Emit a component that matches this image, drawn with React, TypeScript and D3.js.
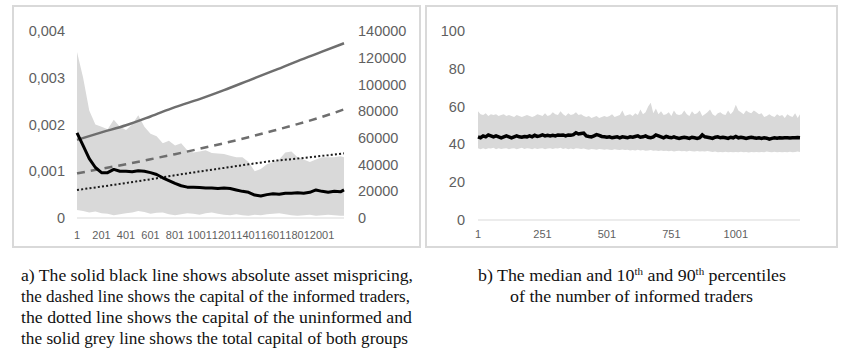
import { useRef, useEffect } from 'react';
import * as d3 from 'd3';

// left panel: sampled every 50 periods (plus the final period)
const LEFT_PERIODS = [...d3.range(1, 2152, 50), 2180];
const MISPRICING_P90 = [
  0.00355, 0.003, 0.0023, 0.002, 0.00195, 0.0019, 0.0021, 0.00195, 0.00188, 0.002,
  0.0022, 0.00195, 0.0018, 0.00175, 0.0016, 0.00165, 0.00155, 0.0016, 0.00145, 0.0014,
  0.00142, 0.00145, 0.00139, 0.00138, 0.00137, 0.00133, 0.0013, 0.0013, 0.0012, 0.001,
  0.00105, 0.00115, 0.0012, 0.00125, 0.0014, 0.00142, 0.0013, 0.00125, 0.0012, 0.00125,
  0.0013, 0.0013, 0.0013, 0.00132, 0.0013,
];
const MISPRICING_P10 = [
  0.00017, 0.00015, 0.00012, 0.00014, 0.0001, 0.00009, 0.00006, 0.00008, 0.0001, 0.00012,
  0.00015, 0.00013, 0.00009, 0.00011, 0.00012, 0.00008, 0.00006, 0.00008, 0.0001, 0.00009,
  0.00007, 0.0001, 0.00012, 0.00009, 0.00007, 0.00006, 0.00008, 0.00006, 0.00005, 0.00007,
  0.00006, 0.00008, 0.00009, 0.0001, 0.00008, 0.00006, 0.00005, 0.00006, 0.00007, 0.00005,
  0.00006, 0.00007, 0.00006, 0.00005, 0.00005,
];
const MISPRICING = [
  0.00182, 0.00155, 0.00127, 0.00108, 0.00097, 0.00097, 0.00104, 0.001, 0.001, 0.00099,
  0.00101, 0.001, 0.00097, 0.00093, 0.00086, 0.0008, 0.00074, 0.00069, 0.00066, 0.00066,
  0.00065, 0.00064, 0.00064, 0.00063, 0.00064, 0.00063, 0.0006, 0.00057, 0.00055, 0.00049,
  0.00047, 0.0005, 0.00052, 0.00051, 0.00053, 0.00053, 0.00054, 0.00053, 0.00055, 0.0006,
  0.00057, 0.00055, 0.00057, 0.00056, 0.0006,
];

// capital series, sampled every 200 periods
const CAPITAL_PERIODS = [1, 201, 401, 601, 801, 1001, 1201, 1401, 1601, 1801, 2001, 2180];
const CAPITAL_TOTAL = [58500, 64100, 69400, 76000, 83000, 89000, 95700, 102900, 110100, 117500, 124500, 130800];
const CAPITAL_INFORMED = [33400, 36800, 40300, 44000, 47800, 51800, 56000, 60500, 65300, 70300, 75700, 81300];
const CAPITAL_UNINFORMED = [21000, 23500, 26200, 29000, 32000, 34800, 37500, 40200, 42700, 44500, 46500, 48400];

const LEFT_X_TICKS = [1, 201, 401, 601, 801, 1001, 1201, 1401, 1601, 1801, 2001];
const LEFT_Y_TICKS = [0, 0.001, 0.002, 0.003, 0.004];
const RIGHT_Y_TICKS = [0, 20000, 40000, 60000, 80000, 100000, 120000, 140000];

// right panel: number of informed traders, sampled every 10 periods
const TRADER_PERIODS = [...d3.range(1, 1242, 10), 1250];
const TRADERS_P90 = [
  57.5, 56, 55.5, 56.5, 55, 56, 55.5, 56, 55, 55.5,
  56, 55, 55.5, 55, 54.5, 55.5, 55, 54.5, 55, 55.5,
  55, 54.5, 55, 56, 55.5, 55, 56.5, 55, 55.5, 57,
  56, 55.5, 57.5, 56, 55, 56.5, 55.5, 56, 57, 55.5,
  56, 55, 54.5, 55, 54, 54.5, 55, 54, 54.5, 55,
  54.5, 55, 56, 54.5, 55, 55.5, 58, 55, 55.5, 56,
  55, 56.5, 55.5, 58.5, 56, 57, 60, 62, 56.5, 59,
  56, 57.5, 55.5, 56, 57, 55, 58, 56, 55.5, 56,
  58, 56, 55, 57.5, 56, 56.5, 58, 55, 56, 57,
  58.5, 56, 55, 56.5, 57, 56, 55.5, 58, 56, 57.5,
  61, 58, 57, 56, 58, 57, 56.5, 58, 57, 56,
  56.5, 54.5, 55, 56, 55, 54.5, 56, 55, 55.5, 54,
  56, 55, 54.5, 56.5, 54, 56,
];
const TRADERS_P10 = [
  38, 37.5, 38, 37.5, 38, 37.8, 38.2, 37.5, 38, 37.6,
  37.8, 38, 37.5, 37.8, 38, 37.5, 37.8, 38.2, 37.6, 38,
  37.8, 37.5, 38, 37.6, 37.8, 38, 37.5, 37.8, 38, 37.6,
  38, 37.8, 38.2, 37.6, 38, 37.5, 37.8, 37.5, 38, 37.8,
  37.6, 37.8, 37.5, 37.2, 37.6, 37.5, 37.2, 37.6, 37.4, 37.2,
  37.5, 37.2, 37, 37.4, 37.2, 37, 37.3, 37, 37.2, 36.8,
  37, 36.8, 37.2, 36.8, 37, 36.6, 36.8, 37, 36.6, 36.8,
  36.5, 36.8, 36.5, 36.7, 36.4, 36.6, 36.3, 36.5, 36.6, 36.4,
  36.5, 36.3, 36.6, 36.4, 36.2, 36.5, 36.3, 36.4, 36.2, 36.5,
  36.3, 36, 36.2, 35.8, 36, 35.8, 36.1, 35.9, 36, 35.8,
  36, 35.8, 36.1, 35.9, 36, 35.7, 36, 35.8, 36, 35.9,
  36, 35.8, 36.2, 36, 35.8, 36.1, 35.9, 36, 35.8, 36,
  35.9, 36.1, 35.8, 36, 36.2, 36,
];
const TRADERS_MEDIAN = [
  44, 43.5, 44.5, 44, 45, 44.5, 44, 44.5, 44, 43.5,
  44, 44.5, 44, 43.5, 44, 44.5, 44, 43.8, 44.2, 44,
  44.5, 44, 44.8, 44.2, 44.5, 45, 44.5, 44.8, 44.5, 44.8,
  44.5, 45, 44.8, 45, 44.5, 45, 44.8, 45.2, 46.2, 45.5,
  45.8, 46, 44.5, 44.2, 44, 44.5, 45.2, 44.8, 44.2, 44,
  43.8, 44, 43.5, 43.8, 44, 43.5, 44, 43.8, 43.5, 44,
  43.8, 44.2, 44.5, 43.8, 44, 44.5, 43.8, 43.5, 44, 45,
  44.5, 44, 43.5, 44.2, 43.8, 43.5, 44, 43.5, 43.2, 43.5,
  43.8, 43.5, 43.2, 43.8, 43.5, 43.2, 43.5, 45, 44, 43.8,
  43.5, 43.2, 43.8, 44, 43.5, 43.8, 43.5, 43.2, 43.8, 43.5,
  44.2, 43.5, 43.8, 43.5, 43.2, 43.5, 43.8, 43.5, 43.3, 43.5,
  43.2, 43.5, 43.3, 42.8, 43.2, 43.5, 43.3, 43.5, 43.4, 43.5,
  43.5, 43.4, 43.5, 43.5, 43.6, 43.5,
];
const TRADER_X_TICKS = [1, 251, 501, 751, 1001];
const TRADER_Y_TICKS = [0, 20, 40, 60, 80, 100];

const CAPTION_A = [
  'a) The solid black line shows absolute asset mispricing,',
  'the dashed line shows the capital of the informed traders,',
  'the dotted line shows the capital of the uninformed and',
  'the solid grey line shows the total capital of both groups',
];

const BAND = '#d9d9d9';
const TICK = '#5f5f5f';
const TICK_FONT = '"Liberation Sans", Arial, sans-serif';
const SERIF = '"Liberation Serif", "DejaVu Serif", serif';

export default function App() {
  const ref = useRef<SVGSVGElement>(null);

  useEffect(() => {
    if (!ref.current) return;
    const svg = d3.select(ref.current);
    svg.selectAll('*').remove();

    // panel frames
    svg.append('rect').attr('x', 13).attr('y', 6).attr('width', 407).attr('height', 241)
      .attr('fill', 'none').attr('stroke', '#d9d9d9').attr('stroke-width', 2);
    svg.append('rect').attr('x', 426).attr('y', 6).attr('width', 411).attr('height', 241)
      .attr('fill', 'none').attr('stroke', '#d9d9d9').attr('stroke-width', 2);

    // ---- panel a ----
    const x = d3.scaleLinear().domain([1, 2180]).range([77, 344]);
    const yL = d3.scaleLinear().domain([0, 0.004]).range([218, 31]);
    const yR = d3.scaleLinear().domain([0, 140000]).range([218, 31]);

    const a = svg.append('g');

    const band = d3.area<number>()
      .x((_, i) => x(LEFT_PERIODS[i]))
      .y0((_, i) => yL(MISPRICING_P10[i]))
      .y1(d => yL(d));
    a.append('path').attr('d', band(MISPRICING_P90)).attr('fill', BAND);

    a.append('line').attr('x1', x(1)).attr('x2', x(2180)).attr('y1', yL(0)).attr('y2', yL(0))
      .attr('stroke', '#d9d9d9').attr('stroke-width', 1);

    const capLine = d3.line<number>()
      .x((_, i) => x(CAPITAL_PERIODS[i]))
      .y(d => yR(d))
      .curve(d3.curveMonotoneX);

    a.append('path').attr('d', capLine(CAPITAL_TOTAL)).attr('fill', 'none')
      .attr('stroke', '#6e6e6e').attr('stroke-width', 2.5);
    a.append('path').attr('d', capLine(CAPITAL_INFORMED)).attr('fill', 'none')
      .attr('stroke', '#6e6e6e').attr('stroke-width', 2.5).attr('stroke-dasharray', '8,6');
    a.append('path').attr('d', capLine(CAPITAL_UNINFORMED)).attr('fill', 'none')
      .attr('stroke', '#1a1a1a').attr('stroke-width', 2).attr('stroke-dasharray', '2,2.2');

    const misLine = d3.line<number>()
      .x((_, i) => x(LEFT_PERIODS[i]))
      .y(d => yL(d));
    a.append('path').attr('d', misLine(MISPRICING)).attr('fill', 'none')
      .attr('stroke', '#000').attr('stroke-width', 3).attr('stroke-linejoin', 'round');

    a.selectAll('text.yl').data(LEFT_Y_TICKS).join('text')
      .attr('x', 65).attr('y', d => yL(d)).attr('dy', '0.35em')
      .attr('text-anchor', 'end').attr('fill', TICK).attr('font-family', TICK_FONT).attr('font-size', 14.5)
      .text(d => d === 0 ? '0' : d.toFixed(3).replace('.', ','));

    a.selectAll('text.yr').data(RIGHT_Y_TICKS).join('text')
      .attr('x', 358).attr('y', d => yR(d)).attr('dy', '0.35em')
      .attr('fill', TICK).attr('font-family', TICK_FONT).attr('font-size', 14.5)
      .text(d => String(d));

    a.selectAll('text.xl').data(LEFT_X_TICKS).join('text')
      .attr('x', d => x(d)).attr('y', 239)
      .attr('text-anchor', 'middle').attr('fill', TICK).attr('font-family', TICK_FONT).attr('font-size', 11)
      .text(d => String(d));

    // ---- panel b ----
    const xb = d3.scaleLinear().domain([1, 1250]).range([478, 800]);
    const yb = d3.scaleLinear().domain([0, 100]).range([220, 31]);
    const b = svg.append('g');

    const tBand = d3.area<number>()
      .x((_, i) => xb(TRADER_PERIODS[i]))
      .y0((_, i) => yb(TRADERS_P10[i]))
      .y1(d => yb(d));
    b.append('path').attr('d', tBand(TRADERS_P90)).attr('fill', BAND);

    b.append('line').attr('x1', xb(1)).attr('x2', xb(1250)).attr('y1', yb(0)).attr('y2', yb(0))
      .attr('stroke', '#d9d9d9').attr('stroke-width', 1);

    const medLine = d3.line<number>()
      .x((_, i) => xb(TRADER_PERIODS[i]))
      .y(d => yb(d));
    b.append('path').attr('d', medLine(TRADERS_MEDIAN)).attr('fill', 'none')
      .attr('stroke', '#000').attr('stroke-width', 3.5);

    b.selectAll('text.yl').data(TRADER_Y_TICKS).join('text')
      .attr('x', 465).attr('y', d => yb(d)).attr('dy', '0.35em')
      .attr('text-anchor', 'end').attr('fill', TICK).attr('font-family', TICK_FONT).attr('font-size', 14.5)
      .text(d => String(d));

    b.selectAll('text.xl').data(TRADER_X_TICKS).join('text')
      .attr('x', d => xb(d)).attr('y', 238)
      .attr('text-anchor', 'middle').attr('fill', TICK).attr('font-family', TICK_FONT).attr('font-size', 11)
      .text(d => String(d));

    // ---- captions ----
    const capA = svg.append('g').attr('font-family', SERIF).attr('font-size', 17).attr('fill', '#111');
    capA.selectAll('text').data(CAPTION_A).join('text')
      .attr('x', 21).attr('y', (_, i) => 281 + i * 21)
      .attr('textLength', (_, i) => [392, 389, 391, 387][i]).attr('lengthAdjust', 'spacingAndGlyphs')
      .text(d => d);

    const capB = svg.append('g').attr('font-family', SERIF).attr('font-size', 17).attr('fill', '#111');
    const l1 = capB.append('text').attr('x', 478).attr('y', 281)
      .attr('textLength', 308).attr('lengthAdjust', 'spacingAndGlyphs');
    l1.append('tspan').text('b) The median and 10');
    l1.append('tspan').attr('font-size', 10.5).attr('dy', -6).text('th');
    l1.append('tspan').attr('dy', 6).text(' and 90');
    l1.append('tspan').attr('font-size', 10.5).attr('dy', -6).text('th');
    l1.append('tspan').attr('dy', 6).text(' percentiles');
    capB.append('text').attr('x', 510).attr('y', 302)
      .attr('textLength', 243).attr('lengthAdjust', 'spacingAndGlyphs')
      .text('of the number of informed traders');
  }, []);

  return (
    <svg
      ref={ref}
      width={859}
      height={352}
      style={{ position: 'absolute', left: 0, top: 0, background: '#fff' }}
    />
  );
}
